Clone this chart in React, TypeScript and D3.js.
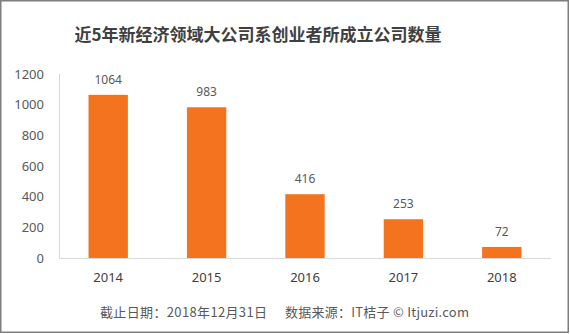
import React from "react";
import * as d3 from "d3";

const title = "近5年新经济领域大公司系创业者所成立公司数量";
const years = ["2014", "2015", "2016", "2017", "2018"];
const counts = [1064, 983, 416, 253, 72];
const yTicks = [0, 200, 400, 600, 800, 1000, 1200];
const footerDate = "截止日期：2018年12月31日";
const footerSource = "数据来源：IT桔子 © Itjuzi.com";

const W = 570;
const H = 334;
const left = 59;
const right = 551;
const top = 74;
const bottom = 258;
const font = "'Noto Sans', 'Noto Sans CJK SC', sans-serif";
const cjk = "'Noto Sans CJK SC', sans-serif";

export default function App() {
  const x = d3.scaleBand<string>().domain(years).range([left, right]).paddingInner(0.6).paddingOuter(0.3);
  const y = d3.scaleLinear().domain([0, 1200]).range([bottom, top]);
  return (
    <svg width={W} height={H} style={{ position: "fixed", left: 0, top: 0, background: "#fff" }} fontFamily={font}>
      <rect x={0.75} y={0.75} width={W - 2.5} height={H - 2.5} fill="#fff" stroke="#7f7f7f" strokeWidth={1.5} />
      <text x={258} y={35} dy="0.35em" textAnchor="middle" fontSize={17} fontWeight="bold" fill="#404040" fontFamily={cjk}>
        {title}
      </text>
      <line x1={left + 0.5} x2={left + 0.5} y1={top} y2={bottom} stroke="#d9d9d9" />
      <line x1={left} x2={right} y1={bottom + 0.5} y2={bottom + 0.5} stroke="#d9d9d9" />
      {yTicks.map((t) => (
        <text key={t} x={44} y={y(t)} dy="0.35em" textAnchor="end" fontSize={13} fill="#595959">
          {t}
        </text>
      ))}
      {years.map((yr, i) => (
        <g key={yr}>
          <rect x={x(yr)} y={y(counts[i])} width={x.bandwidth()} height={bottom - y(counts[i])} fill="#F4731F" />
          <text x={x(yr)! + x.bandwidth() / 2} y={y(counts[i]) - 15} dy="0.35em" textAnchor="middle" fontSize={12} fill="#595959">
            {counts[i]}
          </text>
          <text x={x(yr)! + x.bandwidth() / 2} y={277} dy="0.35em" textAnchor="middle" fontSize={13} fill="#404040">
            {yr}
          </text>
        </g>
      ))}
      <text x={100} y={312} dy="0.35em" textLength={167} fontSize={13} fill="#595959" fontFamily={cjk}>
        {footerDate}
      </text>
      <text x={285} y={312} dy="0.35em" textLength={184} fontSize={13} fill="#595959" fontFamily={cjk}>
        {footerSource}
      </text>
    </svg>
  );
}
